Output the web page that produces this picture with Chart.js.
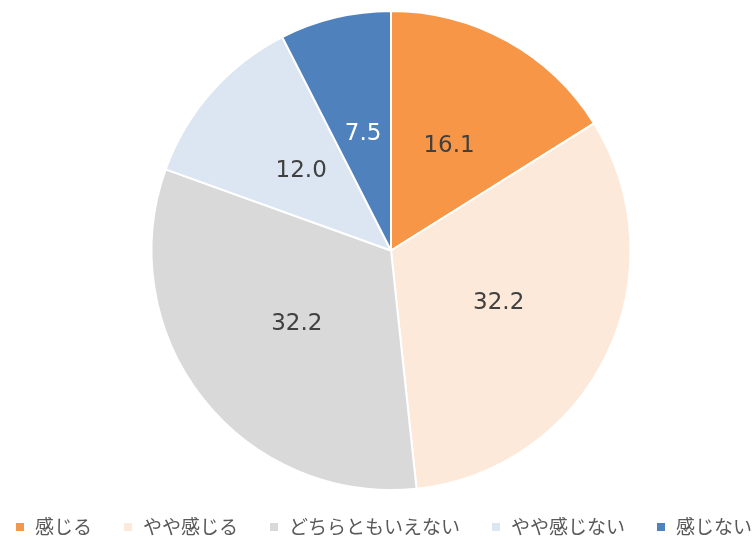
<!DOCTYPE html>
<html>
<head>
<meta charset="utf-8">
<script src="https://cdn.jsdelivr.net/npm/chart.js@4"></script>
<style>
  html, body { margin: 0; padding: 0; background: #fff; }
  #wrap { width: 756px; height: 539px; }
</style>
</head>
<body>
<div id="wrap"><canvas id="pieChart"></canvas></div>
<script>
// --- Data ---
const categories = ['感じる', 'やや感じる', 'どちらともいえない', 'やや感じない', '感じない'];
const values = [16.1, 32.2, 32.2, 12.0, 7.5];
const sliceColors = ['#F79646', '#FDE9D9', '#D9D9D9', '#DCE6F2', '#4F81BD'];
const labelColors = ['#404040', '#404040', '#404040', '#404040', '#FFFFFF'];

// --- Value labels drawn at the middle of each slice ---
const sliceLabels = {
    id: 'sliceLabels',
    afterDatasetsDraw(chart) {
        const ctx = chart.ctx;
        const meta = chart.getDatasetMeta(0);
        ctx.save();
        ctx.font = '23px "DejaVu Sans", Verdana, sans-serif';
        ctx.textAlign = 'center';
        ctx.textBaseline = 'middle';
        meta.data.forEach((arc, i) => {
            const p = arc.tooltipPosition();
            ctx.fillStyle = labelColors[i];
            ctx.fillText(values[i].toFixed(1), p.x, p.y);
        });
        ctx.restore();
    }
};

// --- Bottom legend (drawn by hand so the spacing matches the original) ---
const bottomLegend = {
    id: 'bottomLegend',
    afterDraw(chart) {
        const ctx = chart.ctx;
        const box = 8, boxGap = 11, itemGap = 32;
        const y = chart.height - 12;
        ctx.save();
        ctx.font = '19px "Noto Sans CJK JP", sans-serif';
        ctx.textBaseline = 'middle';
        const widths = categories.map(c => ctx.measureText(c).width);
        const total = widths.reduce((a, w) => a + box + boxGap + w, 0) + itemGap * (categories.length - 1);
        let x = (chart.width - total) / 2 + 6;
        categories.forEach((c, i) => {
            ctx.fillStyle = sliceColors[i];
            ctx.fillRect(x, y - box / 2, box, box);
            ctx.fillStyle = '#595959';
            ctx.fillText(c, x + box + boxGap, y);
            x += box + boxGap + widths[i] + itemGap;
        });
        ctx.restore();
    }
};

const ctx = document.getElementById('pieChart').getContext('2d');
new Chart(ctx, {
    type: 'pie',
    data: {
        labels: categories,
        datasets: [{
            data: values,
            backgroundColor: sliceColors,
            borderColor: '#FFFFFF',
            borderWidth: 2
        }]
    },
    options: {
        responsive: true,
        maintainAspectRatio: false,
        animation: false,
        layout: { padding: { top: 10, left: 26, right: 0, bottom: 48 } },
        plugins: {
            tooltip: { enabled: false },
            legend: { display: false }
        }
    },
    plugins: [sliceLabels, bottomLegend]
});
</script>
</body>
</html>
